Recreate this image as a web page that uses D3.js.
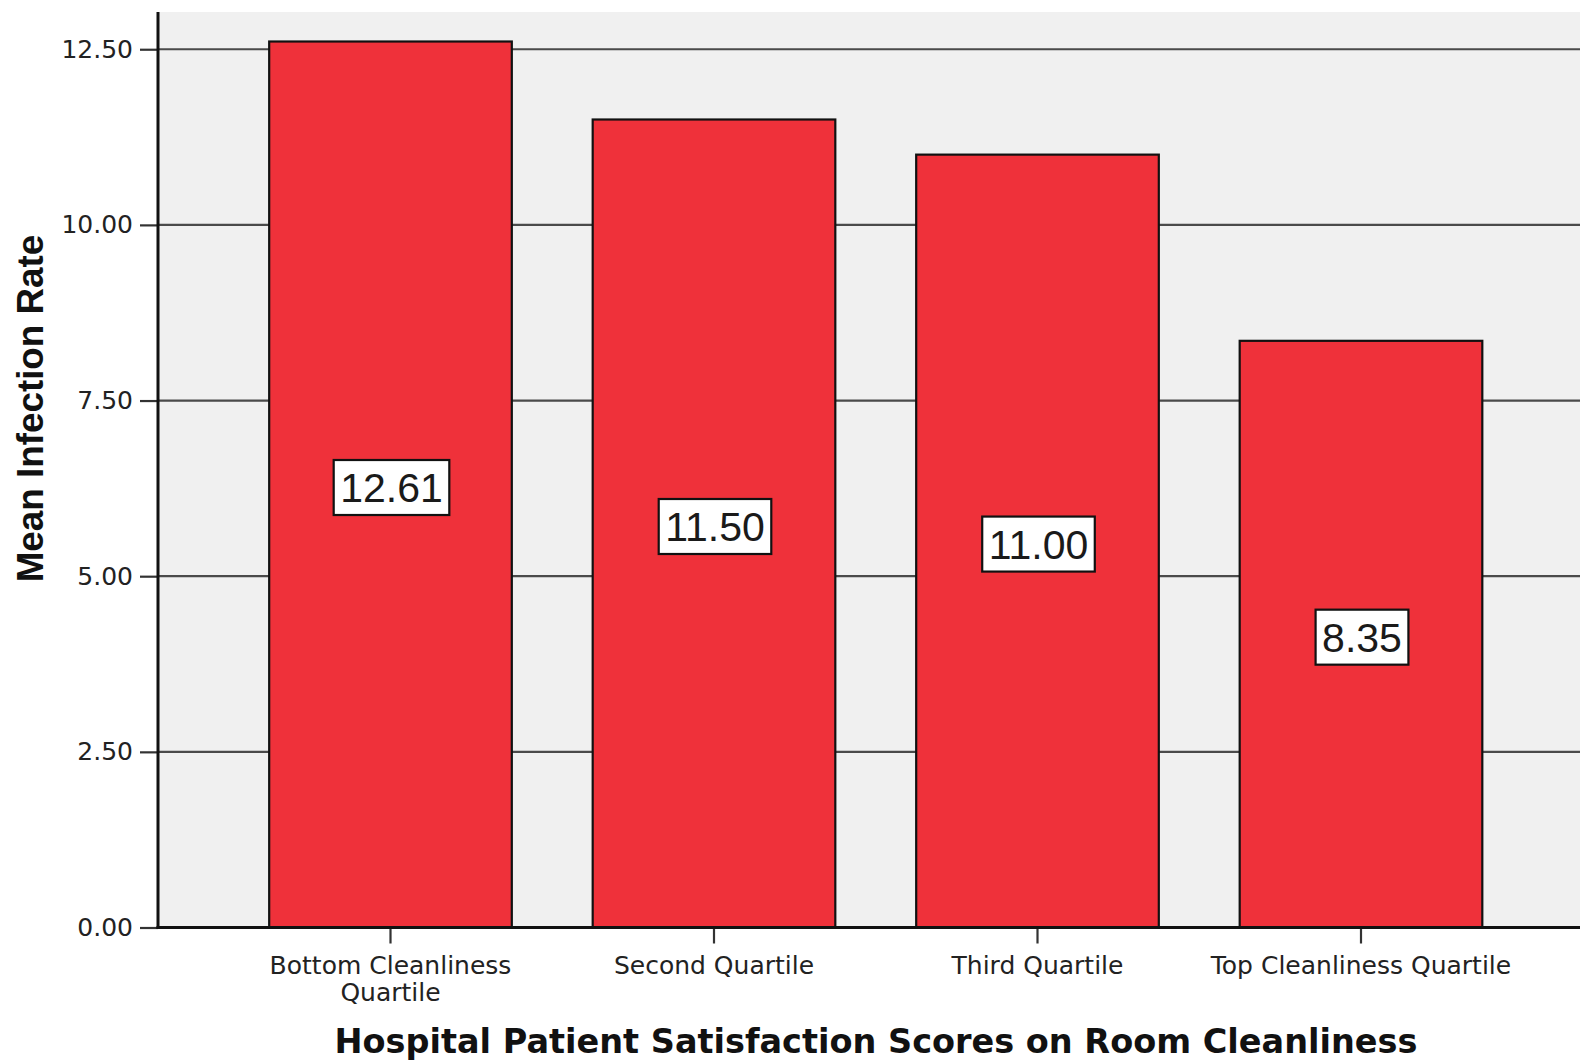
<!DOCTYPE html>
<html>
<head>
<meta charset="utf-8">
<script src="https://cdn.jsdelivr.net/npm/d3@7"></script>
<style>
  html, body { margin: 0; padding: 0; background: #ffffff; }
  svg { display: block; }
</style>
</head>
<body>
<svg id="chart" width="1580" height="1061"></svg>
<script>
// Mean infection rate by cleanliness-score quartile
const categories = [
  ["Bottom Cleanliness", "Quartile"],
  ["Second Quartile"],
  ["Third Quartile"],
  ["Top Cleanliness Quartile"]
];
const meanRates = [12.61, 11.50, 11.00, 8.35];
const valueLabels = ["12.61", "11.50", "11.00", "8.35"];
const yTicks = [0, 2.5, 5, 7.5, 10, 12.5];
const yTickLabels = ["0.00", "2.50", "5.00", "7.50", "10.00", "12.50"];

const svg = d3.select("#chart");
const plot = { left: 158, right: 1580, top: 12, bottom: 927.5 };

const x = d3.scaleBand()
  .domain(d3.range(categories.length))
  .range([228.75, 1522.75])
  .paddingInner(0.25)
  .paddingOuter(0.125);

const y = d3.scaleLinear()
  .domain([0, 13.03])
  .range([plot.bottom, plot.top]);

// plot background
svg.append("rect")
  .attr("x", plot.left).attr("y", plot.top)
  .attr("width", plot.right - plot.left).attr("height", plot.bottom - plot.top)
  .attr("fill", "#f0f0f0");

// horizontal gridlines
svg.append("g")
  .selectAll("line")
  .data(yTicks.filter(d => d > 0))
  .join("line")
  .attr("x1", plot.left).attr("x2", plot.right)
  .attr("y1", d => y(d)).attr("y2", d => y(d))
  .attr("stroke", "#4a4a4a")
  .attr("stroke-width", 2.2);

// bars
svg.append("g")
  .selectAll("rect")
  .data(meanRates)
  .join("rect")
  .attr("x", (d, i) => x(i))
  .attr("y", d => y(d))
  .attr("width", x.bandwidth())
  .attr("height", d => y(0) - y(d))
  .attr("fill", "#ef313a")
  .attr("stroke", "#111")
  .attr("stroke-width", 2.2);

// value labels in white boxes at mid-bar
const lbl = svg.append("g")
  .selectAll("g")
  .data(meanRates)
  .join("g")
  .attr("transform", (d, i) => `translate(${x(i) + x.bandwidth() / 2 + 1},${y(d / 2) + 3})`);

lbl.append("rect").attr("class", "box");
lbl.append("text")
  .text((d, i) => valueLabels[i])
  .attr("text-anchor", "middle")
  .attr("dy", "0.36em")
  .attr("font-family", "Liberation Sans, Arial, sans-serif")
  .attr("font-size", 41)
  .attr("fill", "#1a1a1a");

lbl.each(function () {
  const g = d3.select(this);
  const bb = g.select("text").node().getBBox();
  const padX = 6.5;
  g.select("rect.box")
    .attr("x", bb.x - padX)
    .attr("y", -27.5)
    .attr("width", bb.width + padX * 2)
    .attr("height", 55)
    .attr("fill", "#ffffff")
    .attr("stroke", "#111")
    .attr("stroke-width", 2.2);
});

// y axis
const yAxis = d3.axisLeft(y)
  .tickValues(yTicks)
  .tickFormat((d, i) => yTickLabels[i])
  .tickSize(18)
  .tickPadding(7);

const gy = svg.append("g")
  .attr("transform", `translate(${plot.left},0)`)
  .call(yAxis);
gy.select(".domain").remove();
gy.selectAll(".tick line").attr("stroke", "#333").attr("stroke-width", 2.2);
gy.selectAll(".tick text")
  .attr("font-family", "DejaVu Sans, sans-serif")
  .attr("font-size", 25)
  .attr("fill", "#222");

svg.append("line")
  .attr("x1", plot.left).attr("x2", plot.left)
  .attr("y1", plot.top).attr("y2", plot.bottom + 1.5)
  .attr("stroke", "#111").attr("stroke-width", 3);

// x axis
const xAxis = d3.axisBottom(x).tickSize(16).tickFormat(() => "");
const gx = svg.append("g")
  .attr("transform", `translate(0,${plot.bottom})`)
  .call(xAxis);
gx.select(".domain").remove();
gx.selectAll(".tick line").attr("stroke", "#333").attr("stroke-width", 2.2);

svg.append("line")
  .attr("x1", plot.left - 1.5).attr("x2", plot.right)
  .attr("y1", plot.bottom).attr("y2", plot.bottom)
  .attr("stroke", "#111").attr("stroke-width", 3);

// category labels (multi-line)
const cat = svg.append("g")
  .selectAll("text")
  .data(categories)
  .join("text")
  .attr("x", (d, i) => x(i) + x.bandwidth() / 2)
  .attr("y", 974)
  .attr("text-anchor", "middle")
  .attr("font-family", "DejaVu Sans, sans-serif")
  .attr("font-size", 25)
  .attr("fill", "#222");
cat.selectAll("tspan")
  .data(d => d)
  .join("tspan")
  .attr("x", function () { return d3.select(this.parentNode).attr("x"); })
  .attr("dy", (d, i) => i === 0 ? 0 : 27)
  .text(d => d);

// axis titles
svg.append("text")
  .attr("transform", `translate(43,${(235 + 582) / 2}) rotate(-90)`)
  .attr("text-anchor", "middle")
  .attr("font-family", "Liberation Sans, Arial, sans-serif")
  .attr("font-weight", "bold")
  .attr("font-size", 36.8)
  .attr("fill", "#111")
  .text("Mean Infection Rate");

svg.append("text")
  .attr("x", 876)
  .attr("y", 1053)
  .attr("text-anchor", "middle")
  .attr("font-family", "DejaVu Sans, sans-serif")
  .attr("font-weight", "bold")
  .attr("font-size", 33.5)
  .attr("fill", "#111")
  .text("Hospital Patient Satisfaction Scores on Room Cleanliness");
</script>
</body>
</html>
